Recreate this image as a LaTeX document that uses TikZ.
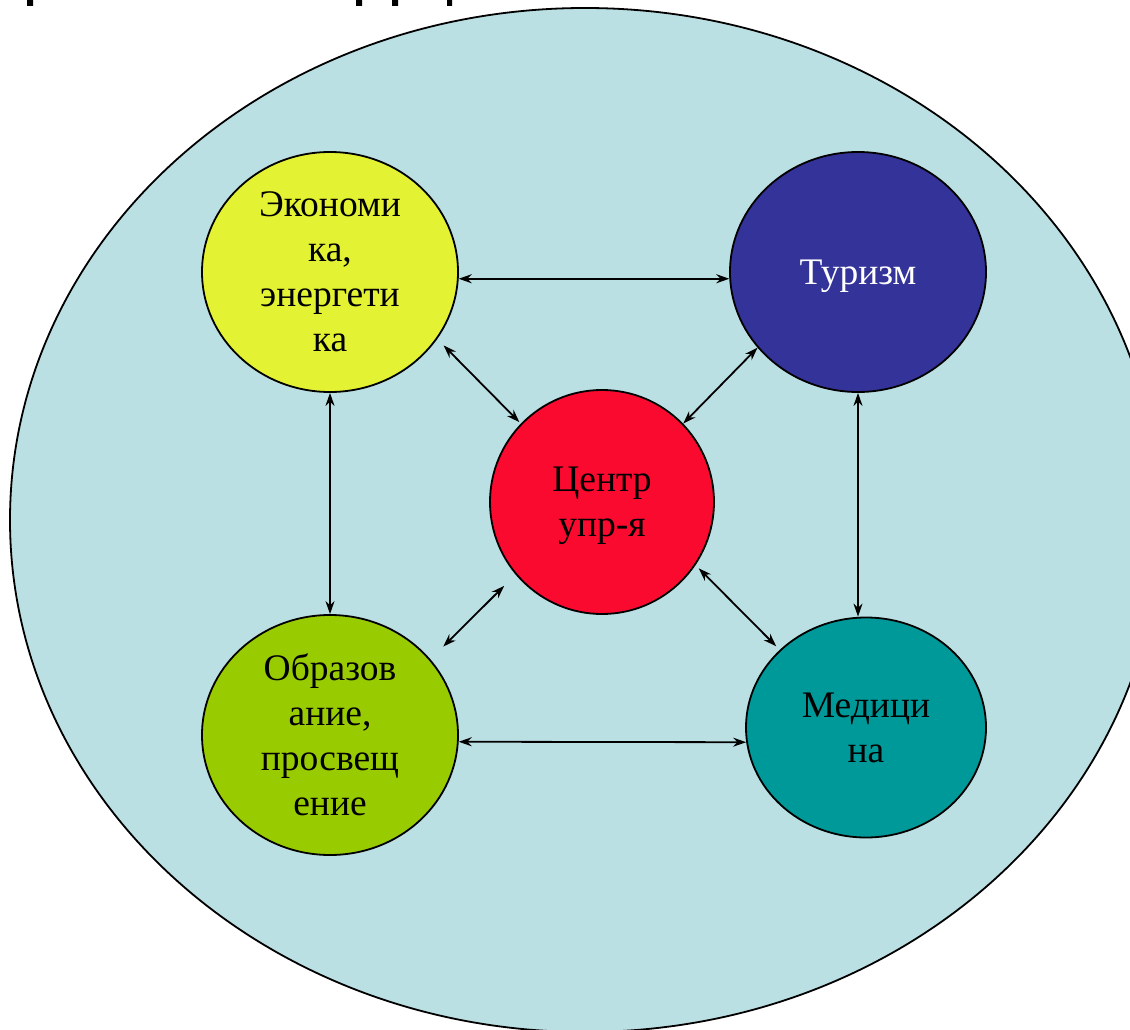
\documentclass[tikz,border=0pt]{standalone}
\usepackage{fontspec}
\setmainfont{Liberation Serif}
\usetikzlibrary{shapes.geometric,arrows.meta}
\definecolor{bgblue}{HTML}{BBE0E3}
\definecolor{cyellow}{HTML}{E3F232}
\definecolor{cblue}{HTML}{333399}
\definecolor{cred}{HTML}{FB0A2F}
\definecolor{cgreen}{HTML}{99CC00}
\definecolor{cteal}{HTML}{009999}
\tikzset{
  bubble/.style={ellipse, draw=black, line width=1.8pt, inner sep=0pt,
    align=center, font=\fontsize{37.5}{45}\selectfont, text depth=0pt},
  link/.style={line width=1.8pt, {Stealth[length=13pt,width=9pt]}-{Stealth[length=13pt,width=9pt]}},
}
\begin{document}
\begin{tikzpicture}[x=1pt,y=-1pt]
\useasboundingbox (0,0) rectangle (1130,1030);
\clip (0,0) rectangle (1130,1030);
% cut-off title fragments
\fill[black] (27,0) rectangle (33,6) (356,0) rectangle (362,6)
  (392,0) rectangle (398,6) (447,0) rectangle (452,6);
% background ellipse
\draw[fill=bgblue, line width=1.8pt] (585,520) ellipse [x radius=575pt, y radius=512pt];
% nodes
\node[bubble, fill=cyellow, minimum width=256pt, minimum height=240pt] (econ) at (330,272)
  {Экономи\\ка,\\энергети\\ка};
\node[bubble, fill=cblue, text=white, minimum width=256pt, minimum height=240pt] (tour) at (858,272)
  {Туризм};
\node[bubble, fill=cred, minimum width=224pt, minimum height=224pt] (cent) at (602,502)
  {Центр\\упр-я};
\node[bubble, fill=cgreen, minimum width=256pt, minimum height=240pt] (educ) at (330,735)
  {Образов\\ание,\\просвещ\\ение};
\node[bubble, fill=cteal, minimum width=240pt, minimum height=220pt] (med) at (866,727.5)
  {Медици\\на};
% connectors
\draw[link] (econ.-3) -- (tour.183);
\draw[link] (educ.-3) -- (med.187);
\draw[link] (econ.south) -- (educ.north);
\draw[link] (tour.south) -- (tour.south |- med.north);
\draw[link, shorten <=9pt, shorten >=2pt] (econ.-32) -- (cent.136);
\draw[link] (tour.217) -- (cent.44);
\draw[link, shorten <=16pt, shorten >=18pt] (cent.220) -- (educ.37);
\draw[link, shorten <=4.5pt, shorten >=5pt] (cent.-34) -- (med.138);
\end{tikzpicture}
\end{document}
